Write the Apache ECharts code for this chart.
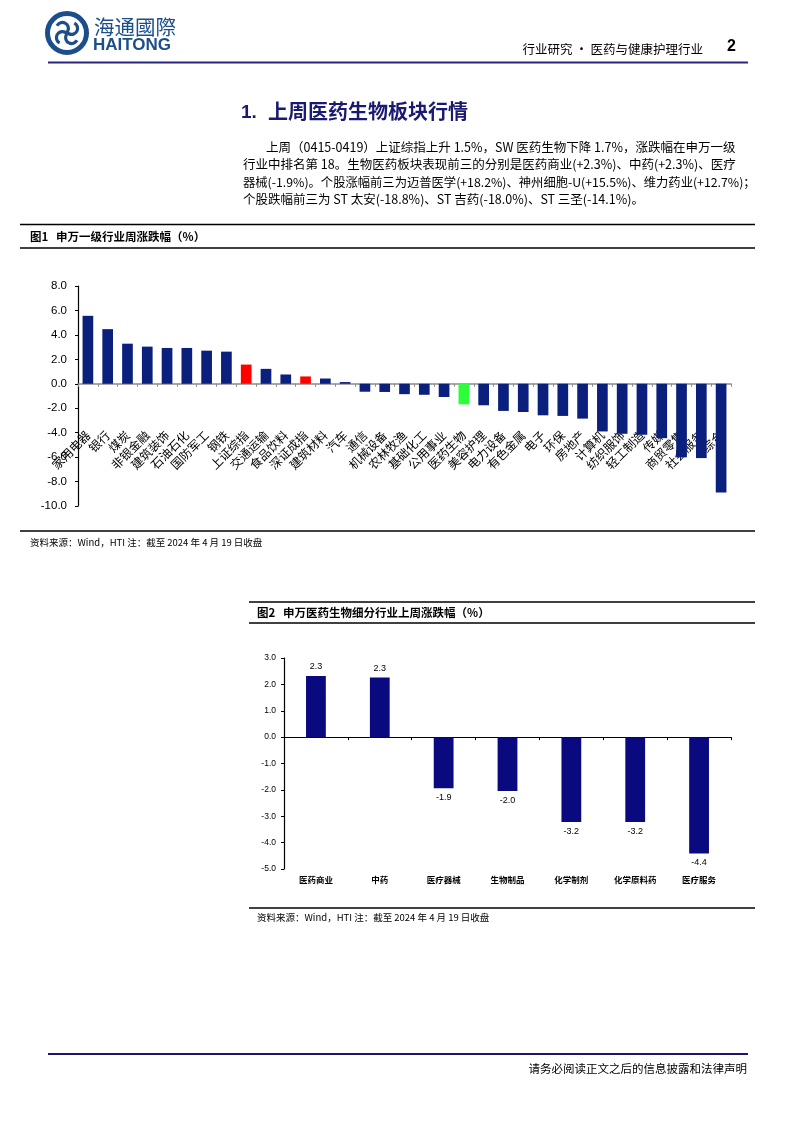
<!DOCTYPE html>
<html>
<head>
<meta charset="utf-8">
<script src="https://cdn.jsdelivr.net/npm/echarts@6/dist/echarts.min.js"></script>
<style>
html,body{margin:0;padding:0;background:#fff;}
#main{width:793px;height:1122px;}
</style>
</head>
<body>
<div id="main"></div>
<script>
// ---- Data ----
const categories1 = ['家用电器','银行','煤炭','非银金融','建筑装饰','石油石化','国防军工','钢铁','上证综指','交通运输','食品饮料','深证成指','建筑材料','汽车','通信','机械设备','农林牧渔','基础化工','公用事业','医药生物','美容护理','电力设备','有色金属','电子','环保','房地产','计算机','纺织服饰','轻工制造','传媒','商贸零售','社会服务','综合'];
const values1 = [5.56,4.47,3.28,3.04,2.93,2.93,2.71,2.63,1.57,1.22,0.76,0.60,0.43,0.14,-0.65,-0.67,-0.85,-0.90,-1.08,-1.68,-1.76,-2.22,-2.31,-2.58,-2.63,-2.85,-3.90,-4.09,-4.17,-4.45,-6.02,-6.08,-8.90];

const categories2 = ['医药商业','中药','医疗器械','生物制品','化学制剂','化学原料药','医疗服务'];
const values2 = [2.32,2.26,-1.94,-2.04,-3.22,-3.22,-4.41];

const headerText = '行业研究 • 医药与健康护理行业';
const pageNo = '2';
const sectionNo = '1.';
const sectionTitle = '上周医药生物板块行情';
const paragraphLines = [
  '上周（0415-0419）上证综指上升 1.5%，SW 医药生物下降 1.7%，涨跌幅在申万一级',
  '行业中排名第 18。生物医药板块表现前三的分别是医药商业(+2.3%)、中药(+2.3%)、医疗',
  '器械(-1.9%)。个股涨幅前三为迈普医学(+18.2%)、神州细胞-U(+15.5%)、维力药业(+12.7%)；',
  '个股跌幅前三为 ST 太安(-18.8%)、ST 吉药(-18.0%)、ST 三圣(-14.1%)。'
];
const fig1Title = '图1   申万一级行业周涨跌幅（%）';
const fig2Title = '图2   申万医药生物细分行业上周涨跌幅（%）';
const sourceText = '资料来源：Wind，HTI 注：截至 2024 年 4 月 19 日收盘';
const footerText = '请务必阅读正文之后的信息披露和法律声明';

// ---- Styles ----
const NAVY1 = '#0B1F7C';
const NAVY2 = '#0A0A80';
const highlight = {'上证综指':'#FF0000','深证成指':'#FF0000','医药生物':'#2BFF3A'};
const CJK = '"Noto Sans CJK SC", "Liberation Sans", sans-serif';
const LAT = '"Liberation Sans", Arial, sans-serif';
const LOGO = '#1C4F8A';

const chart = echarts.init(document.getElementById('main'), null, {renderer:'canvas'});

function hline(x1,x2,y,color,w){
  return {type:'line', shape:{x1:x1,y1:y,x2:x2,y2:y}, style:{stroke:color,lineWidth:w}, silent:true};
}
function txt(t,x,y,size,opts){
  opts = opts||{};
  return {type:'text', x:0, y:0, silent:true, z:10, style:{
    text:t, x:x, y:y, fill:opts.fill||'#000',
    fontSize:size, fontFamily:opts.family||CJK, fontWeight:opts.weight||'normal',
    textAlign:opts.align||'left', textVerticalAlign:'middle'
  }};
}

const graphics = [];
// logo
const lcx = 67, lcy = 33;
graphics.push({type:'circle', shape:{cx:lcx, cy:lcy, r:19.5}, style:{fill:'#fff', stroke:LOGO, lineWidth:5}, silent:true});
for (let k=0;k<4;k++){
  const a = k*Math.PI/2 + Math.PI/4;
  const cx = lcx + 6.5*Math.cos(a), cy = lcy + 6.5*Math.sin(a);
  graphics.push({type:'arc', shape:{cx:cx, cy:cy, r:6, startAngle:a - Math.PI*0.1, endAngle:a + Math.PI*1.0}, style:{stroke:LOGO, lineWidth:3.2, fill:null}, silent:true});
}
graphics.push({type:'circle', shape:{cx:lcx, cy:lcy, r:2.2}, style:{fill:LOGO}, silent:true});
graphics.push(txt('海通國際', 94, 27, 20.5, {fill:LOGO}));
graphics.push(txt('HAITONG', 93, 45, 17, {fill:LOGO, family:LAT, weight:'bold'}));
// header
graphics.push(txt(headerText, 703, 49, 12.5, {align:'right'}));
graphics.push(txt(pageNo, 727, 47, 16, {family:LAT, weight:'bold'}));
graphics.push(hline(48, 748, 62.5, '#2A2485', 2.2));
// section title
graphics.push(txt(sectionNo, 241, 113, 19, {fill:'#1A1A70', weight:'bold', family:LAT}));
graphics.push(txt(sectionTitle, 268, 111, 20, {fill:'#1A1A70', weight:'bold'}));
// paragraph
const pY = [147, 164.5, 182, 199.5];
paragraphLines.forEach((l,i)=>{
  graphics.push(txt(l, i===0?266:243, pY[i], i===2?12.3:12.5));
});
// fig 1 frame
graphics.push(hline(20, 755, 224.5, '#000', 1.5));
graphics.push(hline(20, 755, 248, '#000', 1.5));
graphics.push(txt(fig1Title, 30, 237, 11.5, {weight:'bold'}));
graphics.push(hline(20, 755, 531, '#000', 1.5));
graphics.push(txt(sourceText, 30, 542, 9.5));
// fig 2 frame
graphics.push(hline(249, 755, 602, '#000', 1.5));
graphics.push(hline(249, 755, 623, '#000', 1.5));
graphics.push(txt(fig2Title, 257, 612.5, 11.5, {weight:'bold'}));
graphics.push(hline(249, 755, 908, '#000', 1.5));
graphics.push(txt(sourceText, 257, 917, 9.5));
// footer
graphics.push(hline(48, 748, 1054, '#1E1470', 2.2));
graphics.push(txt(footerText, 747, 1069, 11.5, {align:'right'}));

const option = {
  animation:false,
  backgroundColor:'#fff',
  graphic: graphics,
  grid:[
    {left:78, right:62, top:286, bottom:616, containLabel:false},
    {left:284, right:62, top:658, bottom:253, containLabel:false}
  ],
  xAxis:[
    {type:'category', gridIndex:0, data:categories1,
     axisLine:{onZero:true, lineStyle:{color:'#8C8C8C', width:1.5}},
     axisTick:{show:true, length:3, interval:0, lineStyle:{color:'#8C8C8C'}},
     axisLabel:{interval:0, rotate:45, margin:-73, fontSize:12, color:'#000', fontFamily:CJK}},
    {type:'category', gridIndex:1, data:categories2,
     axisLine:{onZero:true, lineStyle:{color:'#000', width:1.2}},
     axisTick:{show:true, length:3, interval:0, lineStyle:{color:'#000'}},
     axisLabel:{show:false}},
    {type:'category', gridIndex:1, data:categories2, position:'bottom',
     axisLine:{show:false, onZero:false}, axisTick:{show:false},
     axisLabel:{interval:0, margin:7, fontSize:8.5, fontWeight:'bold', color:'#000', fontFamily:CJK}}
  ],
  yAxis:[
    {type:'value', gridIndex:0, min:-10, max:8, interval:2,
     splitLine:{show:false},
     axisLine:{show:true, lineStyle:{color:'#000', width:1.2}},
     axisTick:{show:true, length:3, inside:false, lineStyle:{color:'#000'}},
     axisLabel:{margin:11, fontSize:11.5, color:'#000', fontFamily:LAT, formatter:v=>v.toFixed(1)}},
    {type:'value', gridIndex:1, min:-5, max:3, interval:1,
     splitLine:{show:false},
     axisLine:{show:true, lineStyle:{color:'#000', width:1.2}},
     axisTick:{show:true, length:3, lineStyle:{color:'#000'}},
     axisLabel:{margin:8, fontSize:8.5, color:'#000', fontFamily:LAT, formatter:v=>v.toFixed(1)}}
  ],
  series:[
    {type:'bar', xAxisIndex:0, yAxisIndex:0, barWidth:'54%',
     data: values1.map((v,i)=>({value:v, itemStyle:{color: highlight[categories1[i]] || NAVY1}})),
     itemStyle:{color:NAVY1}},
    {type:'bar', xAxisIndex:1, yAxisIndex:1, barWidth:'31%',
     data: values2.map(v=>({value:v, label:{position: v>=0?'top':'bottom'}})),
     itemStyle:{color:NAVY2},
     label:{show:true, distance:5, fontSize:9, color:'#000', fontFamily:LAT, formatter:p=>p.value.toFixed(1)}}
  ]
};
chart.setOption(option);
</script>
</body>
</html>
